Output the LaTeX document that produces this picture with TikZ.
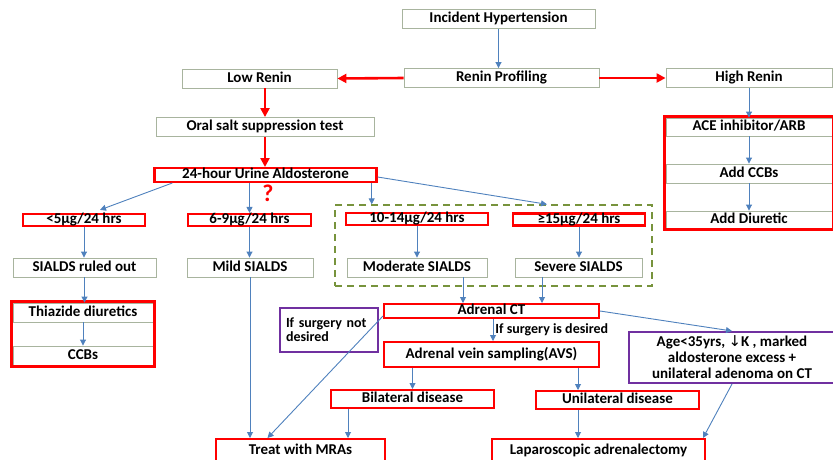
\documentclass[tikz,border=0pt]{standalone}
\usepackage{fontspec}
\setmainfont{Carlito}
\newfontfamily\symbolfont{DejaVu Sans}
\usetikzlibrary{positioning,fit,arrows.meta}

\definecolor{boxgray}{RGB}{168,180,158}
\definecolor{flowblue}{RGB}{79,129,189}
\definecolor{notepurple}{RGB}{112,48,160}
\definecolor{groupgreen}{RGB}{119,147,60}

\begin{document}
\begin{tikzpicture}[x=1pt,y=-1pt]
  \tikzset{StepStyle/.style={draw=boxgray, line width=0.9pt, inner sep=0pt,
      minimum height=19pt, text height=9.8pt, text depth=2pt,
      font=\bfseries\fontsize{15}{16}\selectfont}}
  \tikzset{HighlightStyle/.style={StepStyle, draw=red, line width=2.4pt}}
  \tikzset{NoteStyle/.style={draw=notepurple, line width=2.4pt, inner sep=0pt,
      font=\bfseries\fontsize{14}{14}\selectfont}}
  \tikzset{GroupStyle/.style={draw=groupgreen, line width=1.4pt,
      dash pattern=on 7pt off 5pt}}
  \tikzset{FlowStyle/.style={draw=flowblue, line width=0.9pt,
      -{Triangle[length=6pt,width=6pt]}}}
  \tikzset{RedFlowStyle/.style={draw=red, line width=2.6pt,
      -{Triangle[length=9pt,width=9pt]}}}

  \useasboundingbox (0,0) rectangle (833,459);

  % top of the chart
  \node[StepStyle, minimum width=193pt] (hyper) at (498.5,19) {Incident Hypertension};
  \node[StepStyle, minimum width=195pt] (profile) at (501.5,78) {Renin Profiling};
  \node[StepStyle, minimum width=155pt] (lowrenin) at (259.5,78.5) {Low Renin};
  \node[StepStyle, minimum width=166pt] (highrenin) at (749,78) {High Renin};
  \node[StepStyle, minimum width=218pt] (ost) at (265,127) {Oral salt suppression test};
  \node[HighlightStyle, minimum width=222pt, minimum height=13.6pt] (urine) at (265.5,175)
    {24-hour Urine Aldosterone};
  \node[text=red, font=\bfseries\fontsize{24}{24}\selectfont] (doubt) at (268,193) {?};

  % high renin branch
  \node[StepStyle, minimum width=166pt, minimum height=18pt] (ace) at (749,127) {ACE inhibitor/ARB};
  \node[StepStyle, minimum width=166pt] (addccb) at (749,173.5) {Add CCBs};
  \node[StepStyle, minimum width=166pt, minimum height=17pt] (adddiur) at (749,219.5) {Add Diuretic};
  \node[draw=red, line width=2.4pt, inner sep=1pt, fit=(ace)(adddiur)] (acegroup) {};

  % aldosterone levels
  \node[GroupStyle, minimum width=317pt, minimum height=81pt] (dashgroup) at (493.5,245.5) {};
  \node[HighlightStyle, minimum width=121.6pt, minimum height=11.6pt] (lt5) at (84,220)
    {<5µg/24 hrs};
  \node[HighlightStyle, minimum width=122.6pt, minimum height=11.6pt] (r69) at (249.5,220)
    {6-9µg/24 hrs};
  \node[HighlightStyle, minimum width=141.6pt, minimum height=11.6pt] (r1014) at (417,219)
    {10-14µg/24 hrs};
  \node[HighlightStyle, minimum width=131.6pt, minimum height=11.6pt] (ge15) at (579,219.5)
    {≥15µg/24 hrs};

  \node[StepStyle, minimum width=143pt] (ruledout) at (84.5,267.5) {SIALDS ruled out};
  \node[StepStyle, minimum width=126pt] (mild) at (250,267.5) {Mild SIALDS};
  \node[StepStyle, minimum width=140pt] (moderate) at (417,267.5) {Moderate SIALDS};
  \node[StepStyle, minimum width=127pt] (severe) at (578.5,267.5) {Severe SIALDS};

  \node[StepStyle, minimum width=140pt] (thiazide) at (83,312.5) {Thiazide diuretics};
  \node[StepStyle, minimum width=140pt] (ccbs) at (83,355.5) {CCBs};
  \node[draw=red, line width=2.4pt, inner sep=1pt, fit=(thiazide)(ccbs)] (thiazgroup) {};

  % adrenal work-up
  \node[HighlightStyle, minimum width=214.6pt, minimum height=13.6pt] (ct) at (491.5,311) {Adrenal CT};
  \node[HighlightStyle, minimum width=214.6pt, minimum height=24.6pt] (avs) at (491.5,354.5)
    {Adrenal vein sampling(AVS)};
  \node[NoteStyle, minimum width=97.6pt, minimum height=43.6pt, align=left,
    text width=86pt] (notdesired) at (329,330) {If surgery not\\desired};
  \node[NoteStyle, minimum width=206.6pt, minimum height=50.6pt, align=center,
    font=\bfseries\fontsize{15}{16}\selectfont] (age) at (732,357.5)
    {Age<35yrs, {\symbolfont\mdseries ↓}K , marked\\aldosterone excess +\\unilateral adenoma on CT};
  \node[HighlightStyle, minimum width=162.6pt, minimum height=17.6pt] (bilat) at (412.5,399) {Bilateral disease};
  \node[HighlightStyle, minimum width=162.6pt, minimum height=17.6pt] (unilat) at (617.5,400) {Unilateral disease};
  \node[HighlightStyle, minimum width=168.6pt, minimum height=23.6pt] (mra) at (300.5,451) {Treat with MRAs};
  \node[HighlightStyle, minimum width=212.6pt, minimum height=23.6pt] (lap) at (598.5,451)
    {Laparoscopic adrenalectomy};

  % connectors
  \draw[FlowStyle] (hyper.south) -- (hyper.south |- profile.north);
  \draw[RedFlowStyle] (profile.west) -- (lowrenin.east);
  \draw[RedFlowStyle] (profile.east) -- (highrenin.west);
  \draw[RedFlowStyle] (ost.north |- lowrenin.south) -- (ost.north);
  \draw[RedFlowStyle] (ost.south) -- (ost.south |- urine.north);

  \draw[FlowStyle] (highrenin.south) -- (ace.north);
  \draw[FlowStyle] (ace.south) -- (addccb.north);
  \draw[FlowStyle] (addccb.south) -- (adddiur.north);

  \draw[FlowStyle] ([xshift=19pt]urine.south west) -- ([xshift=16pt,yshift=3pt]lt5.north);
  \draw[FlowStyle] (r69.north |- urine.south) -- (r69.north);
  \draw[FlowStyle] ([xshift=-6pt]urine.south east) -- ([xshift=-6pt]urine.south east |- dashgroup.north);
  \draw[FlowStyle] ([yshift=-2pt]urine.east) -- ([xshift=-32pt]ge15.north |- dashgroup.north);

  \draw[FlowStyle] (lt5.south) -- (lt5.south |- ruledout.north);
  \draw[FlowStyle] (r69.south) -- (r69.south |- mild.north);
  \draw[FlowStyle] (r1014.south) -- (r1014.south |- moderate.north);
  \draw[FlowStyle] (ge15.south) -- (ge15.south |- severe.north);
  \draw[FlowStyle] (ruledout.south) -- (ruledout.south |- thiazide.north);
  \draw[FlowStyle] (thiazide.south) -- (ccbs.north);

  \draw[FlowStyle] ([xshift=46pt]moderate.south) -- ([xshift=46pt]moderate.south |- ct.north);
  \draw[FlowStyle] ([xshift=-36.5pt]severe.south) -- ([xshift=-36.5pt]severe.south |- ct.north);
  \draw[FlowStyle] (mild.south) -- (mild.south |- mra.north);
  \draw[FlowStyle] ([yshift=-5pt]ct.west) -- ([xshift=-33pt]mra.north);
  \draw[FlowStyle] ([xshift=1.5pt]ct.south) -- ([xshift=1.5pt]ct.south |- avs.north)
    node[pos=0.5, anchor=west, inner sep=2pt, font=\bfseries\fontsize{14}{14}\selectfont]
    (desired) {If surgery is desired};
  \draw[FlowStyle] (ct.east) -- (age.north);
  \draw[FlowStyle] (bilat.north |- avs.south) -- (bilat.north);
  \draw[FlowStyle] ([xshift=86.5pt]avs.south) -- ([xshift=86.5pt]avs.south |- unilat.north);
  \draw[FlowStyle] ([xshift=-64.5pt]bilat.south) -- ([xshift=-64.5pt]bilat.south |- mra.north);
  \draw[FlowStyle] ([xshift=-39.5pt]unilat.south) -- ([xshift=-39.5pt]unilat.south |- lap.north);
  \draw[FlowStyle] (age.south) -- ([xshift=-3pt]lap.north east);
\end{tikzpicture}
\end{document}
